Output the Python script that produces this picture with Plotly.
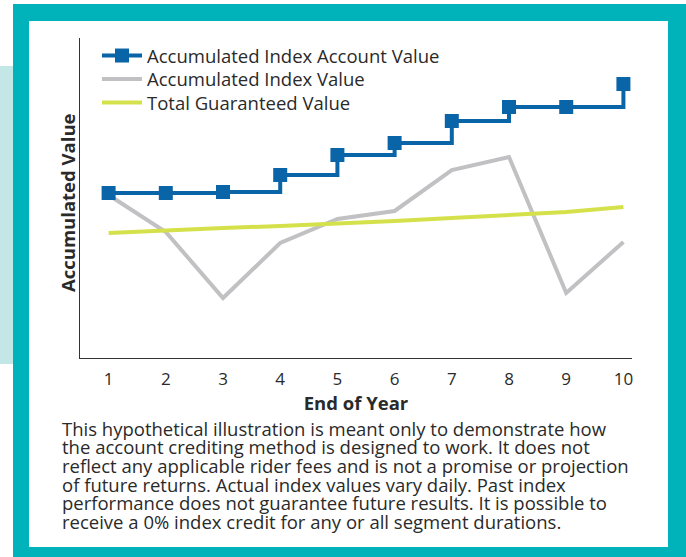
import plotly.graph_objects as go

W, H = 686, 557

years = [1, 2, 3, 4, 5, 6, 7, 8, 9, 10]
tick_labels = ["1", "2", "3", "4", "5", "6", "7", "8", "9", "10"]
account_value = [165, 165, 166, 183, 203, 215, 237, 251, 251, 274]
index_value = [163, 126, 60, 115, 139, 147, 188, 201, 65, 116]
guaranteed_value = [125, 128, 130, 132, 134, 137, 140, 143, 146, 151]

names = ["Accumulated Index Account Value", "Accumulated Index Value", "Total Guaranteed Value"]

para_lines = [
    "This hypothetical illustration is meant only to demonstrate how",
    "the account crediting method is designed to work. It does not",
    "reflect any applicable rider fees and is not a promise or projection",
    "of future returns. Actual index values vary daily. Past index",
    "performance does not guarantee future results. It is possible to",
    "receive a 0% index credit for any or all segment durations.",
]

BLUE = "#0a64a8"
GRAY = "#c1c1c3"
GREEN = "#d5e14a"
TEAL = "#00b2ba"
LIGHT_TEAL = "#c3e6e7"
TEXT = "#2a2a2a"
FONT = "Open Sans"

fig = go.Figure()
fig.add_trace(go.Scatter(x=years, y=index_value, name=names[1], mode="lines", legend="legend2",
                         line=dict(color=GRAY, width=4)))
fig.add_trace(go.Scatter(x=years, y=guaranteed_value, name=names[2], mode="lines", legend="legend3",
                         line=dict(color=GREEN, width=4)))
fig.add_trace(go.Scatter(x=years, y=account_value, name=names[0], mode="lines+markers", legend="legend",
                         line=dict(color=BLUE, width=4, shape="hv"),
                         marker=dict(symbol="square", size=14, color=BLUE)))

x0p, x1p = 80 / W, 632 / W
y0p, y1p = (H - 358) / H, (H - 38) / H

shapes = [
    dict(type="rect", xref="paper", yref="paper", x0=0, x1=13 / W, y0=(H - 364) / H, y1=(H - 66) / H,
         fillcolor=LIGHT_TEAL, line=dict(width=0), layer="below"),
    dict(type="rect", xref="paper", yref="paper", x0=13 / W, x1=1, y0=0, y1=(H - 4) / H,
         fillcolor=TEAL, line=dict(width=0), layer="below"),
    dict(type="rect", xref="paper", yref="paper", x0=29 / W, x1=668 / W, y0=(H - 547) / H, y1=(H - 21) / H,
         fillcolor="white", line=dict(width=0), layer="below"),
]

annotations = []
for i, line in enumerate(para_lines):
    annotations.append(dict(text=line, xref="paper", yref="paper", x=61 / W, y=(H - (428 + 18.7 * i)) / H,
                            xanchor="left", yanchor="middle", align="left", showarrow=False, borderpad=0,
                            font=dict(size=18.5, color=TEXT, family=FONT)))
annotations.append(dict(text="<b>Accumulated Value</b>", xref="paper", yref="paper", x=68 / W, y=(H - 203) / H,
                        xanchor="center", yanchor="middle", textangle=-90, showarrow=False, borderpad=0,
                        font=dict(size=18.5, color=TEXT, family=FONT)))


def leg(ypix):
    return dict(x=97 / W, y=(H - ypix) / H, xanchor="left", yanchor="middle",
                bgcolor="rgba(0,0,0,0)", font=dict(size=18.5, color=TEXT, family=FONT),
                itemwidth=40, borderwidth=0)


fig.update_layout(
    width=W, height=H,
    margin=dict(l=0, r=0, t=0, b=0),
    paper_bgcolor="white", plot_bgcolor="rgba(0,0,0,0)",
    font=dict(family=FONT, color=TEXT, size=16),
    shapes=shapes,
    showlegend=True,
    legend=leg(56), legend2=leg(79.5), legend3=leg(103),
    xaxis=dict(domain=[x0p, x1p], range=[0.5, 10.15], showline=True, linecolor="#333333", linewidth=1,
               showgrid=False, zeroline=False, tickmode="array", tickvals=years, ticktext=tick_labels,
               ticks="", tickfont=dict(size=17, color=TEXT), ticklabelstandoff=6,
               title=dict(text="<b>End of Year</b>", font=dict(size=18.5, color=TEXT), standoff=1)),
    yaxis=dict(domain=[y0p, y1p], range=[0, 320], showline=True, linecolor="#333333", linewidth=1,
               showgrid=False, zeroline=False, showticklabels=False, ticks=""),
    annotations=annotations,
)

fig.write_html("out.html", config={"displayModeBar": False},
               post_script="document.body.style.margin='0';")
